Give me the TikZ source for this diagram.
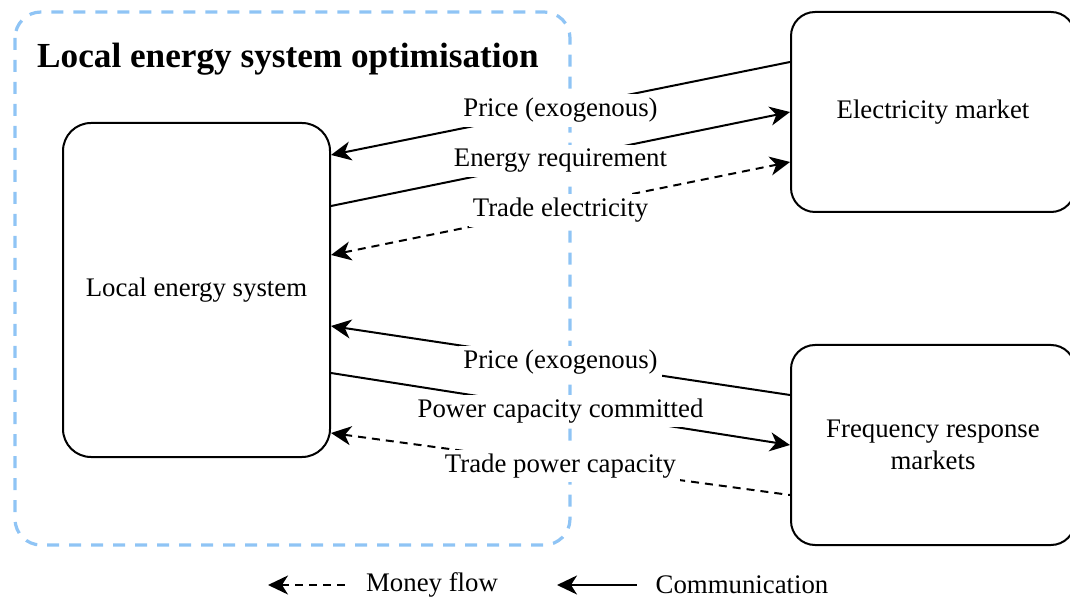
\documentclass[tikz,border=0pt]{standalone}
\usepackage{fontspec}
\setmainfont{Liberation Serif}
\usetikzlibrary{arrows.meta,scopes}

\definecolor{optblue}{RGB}{143,196,245}

\begin{document}
\begin{tikzpicture}[
    x=0.5pt,y=-0.5pt,
    every node/.style={font=\fontsize{13.4}{16}\selectfont},
    region/.style={draw=optblue,line width=1.6pt,dash pattern=on 6pt off 5pt,rounded corners=13pt},
    title/.style={font=\fontsize{17.6}{20}\selectfont\bfseries},
    sys/.style={rectangle,draw,line width=1pt,rounded corners=14pt,minimum width=133.5pt,minimum height=167pt},
    mkt/.style={rectangle,draw,line width=1pt,rounded corners=12pt,minimum width=142pt,minimum height=100pt,align=center},
    comm/.style={draw=black,line width=1pt,>={Stealth[length=10pt,width=9.5pt,inset=3pt]}},
    money/.style={draw=black,line width=1pt,dash pattern=on 4pt off 3pt,>={Stealth[length=10pt,width=9.5pt,inset=3pt]}},
    lbl/.style={fill=white,inner sep=2pt,yshift=-1pt},
]
\useasboundingbox (0,0) rectangle (1070,598);

\draw[region] (15,12) rectangle (570,545);
\node[title] (opt) at (288,59) {Local energy system optimisation};

\node[sys] (les) at (196.5,290) {Local energy system};
\node[mkt] (em) at (933,112) {Electricity market};
\node[mkt] (frm) at (933,445) {Frequency response\\markets};

{[comm]
    \draw[<-] ([yshift=67.5pt]les.east) -- node[lbl] {Price (exogenous)} ([yshift=25pt]em.west);
    \draw[->] ([yshift=42pt]les.east) -- node[lbl] {Energy requirement} (em.west);
    \draw[<-] ([yshift=-18pt]les.east) -- node[lbl] {Price (exogenous)} ([yshift=25pt]frm.west);
    \draw[->] ([yshift=-41.5pt]les.east) -- node[lbl] {Power capacity committed} (frm.west);
}
{[money]
    \draw[<->] ([yshift=17.5pt]les.east) -- node[lbl] {Trade electricity} ([yshift=-25pt]em.west);
    \draw[<-] ([yshift=-71.5pt]les.east) -- node[lbl] {Trade power capacity} ([yshift=-25pt]frm.west);
}

\node (mf) at (432,585) {Money flow};
\node (cm) at (742,585) {Communication};
\coordinate (mfa) at (268,585);
\coordinate (cma) at (557,585);
\draw[money,<-] (mfa) -- ([xshift=-6pt]mf.west);
\draw[comm,<-] (cma) -- ([xshift=-6pt]cm.west);
\end{tikzpicture}
\end{document}
